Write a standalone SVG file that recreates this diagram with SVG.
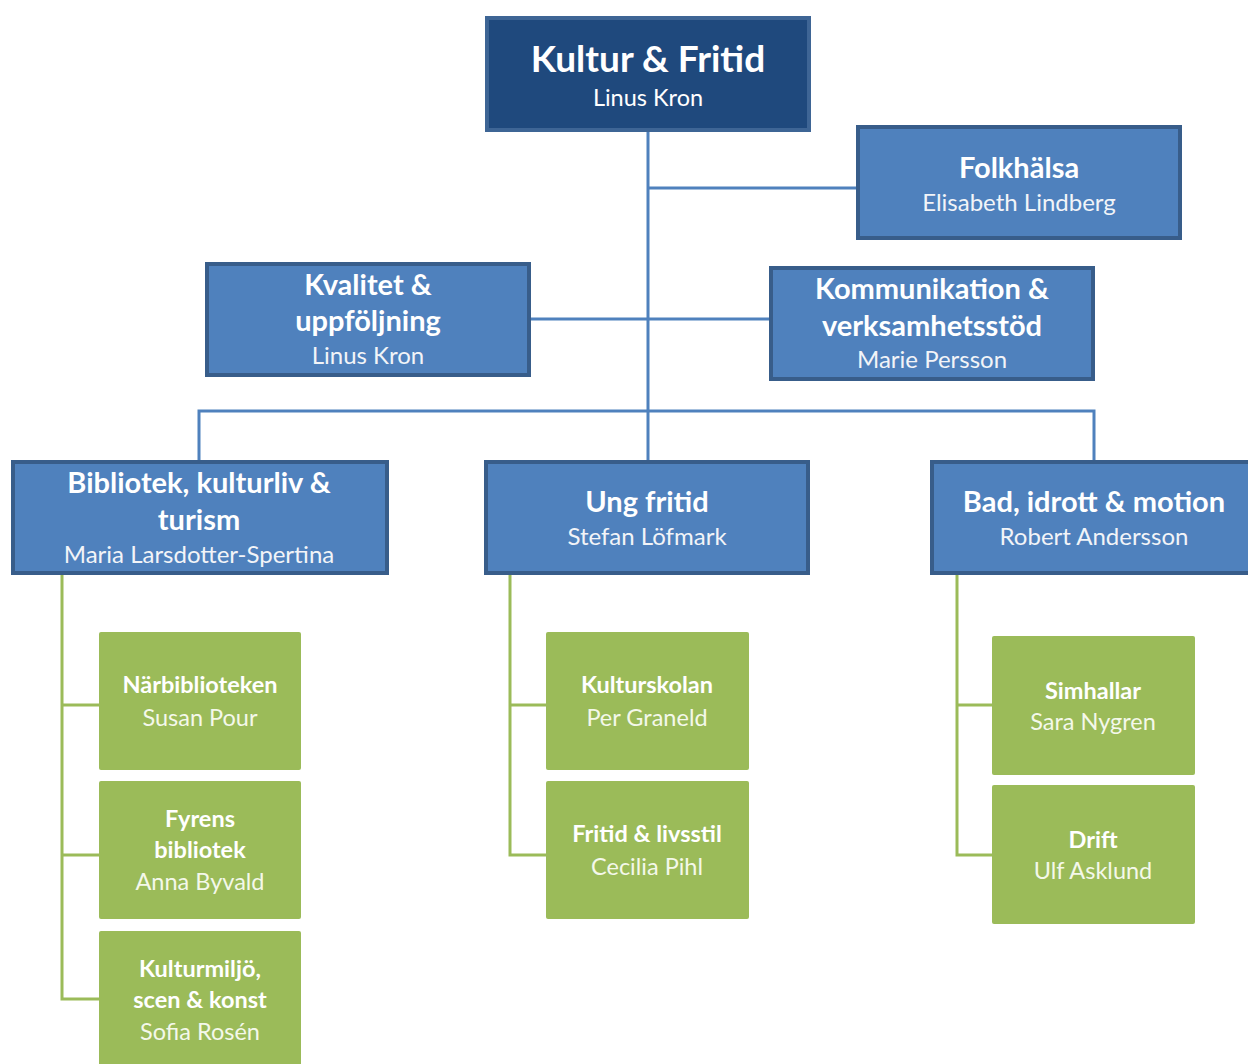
<svg xmlns="http://www.w3.org/2000/svg" width="1248" height="1064" viewBox="0 0 1248 1064">
<style>
.t{font-family:Lato,"Liberation Sans",sans-serif;text-anchor:middle;fill:#fff}
.bt{font-weight:bold;font-size:29px}
.bn{font-size:24px;fill:#f2f4f8}
.gt{font-weight:bold;font-size:23.5px}
.gn{font-size:23.5px;fill:#f4f8ea}
.blue{fill:#4f81bd;stroke:#385d8a;stroke-width:4}
.green{fill:#9bbb59}
.cb{stroke:#4f81bd;stroke-width:3;fill:none}
.cg{stroke:#9bbb59;stroke-width:3;fill:none}
</style>
<rect width="1248" height="1064" fill="#fff"/>
<g id="connectors">
<path class="cb" d="M648 131V460M648 188H856M530 319H769M199 460V411H1094V460"/>
<path class="cg" d="M62 574V999H99M62 705H99M62 855H99"/>
<path class="cg" d="M510 574V855H546M510 705H546"/>
<path class="cg" d="M957 574V855H992M957 705H992"/>
</g>
<g id="kultur">
<rect x="487" y="18" width="322" height="112" fill="#1f497d" stroke="#3e6595" stroke-width="4"/>
<text class="t" x="648" y="72" font-size="37" font-weight="bold">Kultur &amp; Fritid</text>
<text class="t" x="648" y="106" font-size="23.5" fill="#f2f4f8">Linus Kron</text>
</g>
<g id="folkhalsa">
<rect class="blue" x="858" y="127" width="322" height="111"/>
<text class="t bt" x="1019" y="178">Folkhälsa</text>
<text class="t bn" x="1019" y="211">Elisabeth Lindberg</text>
</g>
<g id="kvalitet">
<rect class="blue" x="207" y="264" width="322" height="111"/>
<text class="t bt" x="368" y="295">Kvalitet &amp;</text>
<text class="t bt" x="368" y="331">uppföljning</text>
<text class="t bn" x="368" y="364">Linus Kron</text>
</g>
<g id="kommunikation">
<rect class="blue" x="771" y="268" width="322" height="111"/>
<text class="t bt" x="932" y="299">Kommunikation &amp;</text>
<text class="t bt" x="932" y="336">verksamhetsstöd</text>
<text class="t bn" x="932" y="368">Marie Persson</text>
</g>
<g id="bibliotek">
<rect class="blue" x="13" y="462" width="374" height="111"/>
<text class="t bt" x="199" y="493">Bibliotek, kulturliv &amp;</text>
<text class="t bt" x="199" y="530">turism</text>
<text class="t bn" x="199" y="563">Maria Larsdotter-Spertina</text>
</g>
<g id="ungfritid">
<rect class="blue" x="486" y="462" width="322" height="111"/>
<text class="t bt" x="647" y="512">Ung fritid</text>
<text class="t bn" x="647" y="545">Stefan Löfmark</text>
</g>
<g id="bad">
<rect class="blue" x="932" y="462" width="324" height="111"/>
<text class="t bt" x="1094" y="512">Bad, idrott &amp; motion</text>
<text class="t bn" x="1094" y="545">Robert Andersson</text>
</g>
<g id="narbiblioteken">
<rect class="green" x="99" y="632" width="202" height="138" rx="2"/>
<text class="t gt" x="200" y="693">Närbiblioteken</text>
<text class="t gn" x="200" y="726">Susan Pour</text>
</g>
<g id="fyrens">
<rect class="green" x="99" y="781" width="202" height="138" rx="2"/>
<text class="t gt" x="200" y="827">Fyrens</text>
<text class="t gt" x="200" y="858">bibliotek</text>
<text class="t gn" x="200" y="890">Anna Byvald</text>
</g>
<g id="kulturmiljo">
<rect class="green" x="99" y="931" width="202" height="140" rx="2"/>
<text class="t gt" x="200" y="977">Kulturmiljö,</text>
<text class="t gt" x="200" y="1008">scen &amp; konst</text>
<text class="t gn" x="200" y="1040">Sofia Rosén</text>
</g>
<g id="kulturskolan">
<rect class="green" x="546" y="632" width="203" height="138" rx="2"/>
<text class="t gt" x="647" y="693">Kulturskolan</text>
<text class="t gn" x="647" y="726">Per Graneld</text>
</g>
<g id="fritidlivsstil">
<rect class="green" x="546" y="781" width="203" height="138" rx="2"/>
<text class="t gt" x="647" y="842">Fritid &amp; livsstil</text>
<text class="t gn" x="647" y="875">Cecilia Pihl</text>
</g>
<g id="simhallar">
<rect class="green" x="992" y="636" width="203" height="139" rx="2"/>
<text class="t gt" x="1093" y="699">Simhallar</text>
<text class="t gn" x="1093" y="730">Sara Nygren</text>
</g>
<g id="drift">
<rect class="green" x="992" y="785" width="203" height="139" rx="2"/>
<text class="t gt" x="1093" y="848">Drift</text>
<text class="t gn" x="1093" y="879">Ulf Asklund</text>
</g>
</svg>
